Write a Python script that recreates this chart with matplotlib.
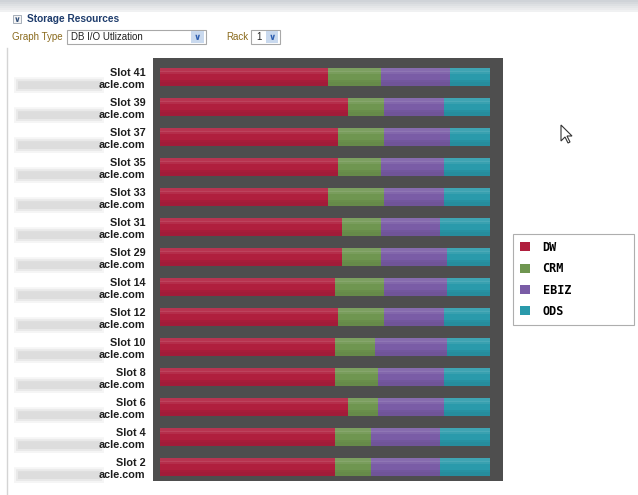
import numpy as np
import matplotlib.pyplot as plt
from matplotlib.patches import Rectangle, Polygon, FancyBboxPatch, Patch
import matplotlib.transforms as mtransforms

# ----------------------------------
# data (share of I/O per slot, %)
# ----------------------------------
slots = ["Slot 41", "Slot 39", "Slot 37", "Slot 35", "Slot 33", "Slot 31", "Slot 29",
         "Slot 14", "Slot 12", "Slot 10", "Slot 8", "Slot 6", "Slot 4", "Slot 2"]
host_tail = "acle.com"

series = ["DW", "CRM", "EBIZ", "ODS"]
dw   = [51, 57, 54, 54, 51, 55, 55, 53, 54, 53, 53, 57, 53, 53]
crm  = [16, 11, 14, 13, 17, 12, 12, 15, 14, 12, 13,  9, 11, 11]
ebiz = [21, 18, 20, 19, 18, 18, 20, 19, 18, 22, 20, 20, 21, 21]
ods  = [12, 14, 12, 14, 14, 15, 13, 13, 14, 13, 14, 14, 15, 15]

colors = ["#b01f3e", "#6f9650", "#7a5ca6", "#2a9aab"]

W, H = 638, 495
fig = plt.figure(figsize=(W / 100, H / 100), dpi=100)
fig.patch.set_facecolor("white")
ui = "Liberation Sans"

def fx(px):
    return px / W

def fy(py):
    return 1 - py / H

# ----------------------------------
# page chrome
# ----------------------------------
for i, c in enumerate(["#cfd3d8", "#d6d9dd", "#dde0e3", "#e4e6e8", "#eaebed", "#f0f1f2"]):
    fig.add_artist(Rectangle((0, fy(2 * (i + 1))), 1, 2 / H, transform=fig.transFigure,
                             facecolor=c, edgecolor="none"))
fig.add_artist(plt.Line2D([fx(7), fx(7)], [fy(48), 0], transform=fig.transFigure,
                          color="#d4d4d4", lw=1))

# collapse icon + title
fig.add_artist(Rectangle((fx(13), fy(23)), 8 / W, 8 / H, transform=fig.transFigure,
                         facecolor="#f4f4f4", edgecolor="#9aa4b0", lw=0.6))
fig.text(fx(17), fy(19), "\u2228", fontsize=6, color="#33507a", ha="center", va="center",
         fontweight="bold")
fig.text(fx(27), fy(19), "Storage Resources", fontsize=7.3, fontweight="bold",
         family=ui, color="#1e3c6c", va="center")

# graph type dropdown
fig.text(fx(12), fy(37), "Graph Type", fontsize=7, family=ui, color="#8a6a1c", va="center")
fig.add_artist(Rectangle((fx(67), fy(44)), 139 / W, 14 / H, transform=fig.transFigure,
                         facecolor="white", edgecolor="#a8a8a8", lw=0.8))
fig.text(fx(71), fy(37), "DB I/O Utlization", fontsize=7, family=ui, color="#222222",
         va="center")
fig.add_artist(Rectangle((fx(191), fy(43)), 13 / W, 12 / H, transform=fig.transFigure,
                         facecolor="#c9d9ee", edgecolor="none"))
fig.text(fx(197.5), fy(37), "\u2228", fontsize=6.5, color="#2f5fb0", ha="center",
         va="center", fontweight="bold")

# rack dropdown
fig.text(fx(226), fy(37), "Rack", fontsize=7, family=ui, color="#8a6a1c", va="center")
fig.add_artist(Rectangle((fx(251), fy(44)), 29 / W, 14 / H, transform=fig.transFigure,
                         facecolor="white", edgecolor="#a8a8a8", lw=0.8))
fig.text(fx(256), fy(37), "1", fontsize=7, family=ui, color="#222222", va="center")
fig.add_artist(Rectangle((fx(266), fy(43)), 12 / W, 12 / H, transform=fig.transFigure,
                         facecolor="#c9d9ee", edgecolor="none"))
fig.text(fx(272), fy(37), "\u2228", fontsize=6.5, color="#2f5fb0", ha="center",
         va="center", fontweight="bold")

# ----------------------------------
# stacked bars
# ----------------------------------
ax = fig.add_axes([fx(153), fy(481), 350 / W, 423 / H])
ax.set_facecolor("#4e4e4e")
for s in ax.spines.values():
    s.set_visible(False)

y = np.arange(len(slots))
data = [dw, crm, ebiz, ods]
left = np.zeros(len(slots))
bh = 0.6
# (offset, height, colour, alpha) layers for a soft vertical gradient
shade = [(-0.40, 0.20, "white", 0.10), (-0.25, 0.15, "white", 0.07),
         (0.22, 0.14, "black", 0.05), (0.38, 0.24, "black", 0.08)]
for vals, c in zip(data, colors):
    vals = np.array(vals, dtype=float)
    ax.barh(y, vals, left=left, height=bh, color=c, edgecolor="none")
    for off, hh, sc, a in shade:
        ax.barh(y + off * bh, vals, left=left, height=hh * bh, color=sc,
                alpha=a, edgecolor="none")
    left += vals

ax.set_xlim(-7 / 3.3, 100 + 13 / 3.3)
ax.set_ylim(len(slots) - 1 + 14 / 30, -19 / 30)
ax.set_xticks([])
ax.set_yticks(y)
ax.set_yticklabels([f"{s}\n{host_tail}" for s in slots], fontsize=7.8,
                   family=ui, fontweight="bold", color="#1e1e1e",
                   linespacing=1.2)
for t in ax.get_yticklabels():
    t.set_multialignment("right")
ax.tick_params(axis="y", length=0, pad=5.5)

# blurred host names
blend = mtransforms.blended_transform_factory(fig.transFigure, ax.transData)
for yi in y:
    for pad, a in [(4, 0.2), (2, 0.3), (0, 0.45)]:
        fig.add_artist(FancyBboxPatch((fx(18 - pad), yi + 0.14 - pad / 30), (82 + 2 * pad) / W,
                                      0.26 + 2 * pad / 30,
                                      boxstyle="round,pad=0,rounding_size=0.004",
                                      transform=blend, facecolor="#cfcfcf",
                                      edgecolor="none", alpha=a, clip_on=False,
                                      zorder=-1))

# ----------------------------------
# legend
# ----------------------------------
handles = [Patch(facecolor=c, edgecolor="none") for c in colors]
leg = fig.legend(handles, series, loc="upper left",
                 bbox_to_anchor=(fx(513), fy(326), 121 / W, 92 / H), mode="expand",
                 frameon=True, fancybox=False, edgecolor="#9a9a9a",
                 prop={"family": "DejaVu Sans Mono", "weight": "bold", "size": 8.5},
                 handlelength=0.8, handleheight=0.8, handletextpad=1.1,
                 labelspacing=0.7, borderpad=0.6, borderaxespad=0)
leg.get_frame().set_linewidth(0.8)

# mouse pointer
cx, cy = 561, 125
shape = [(0, 0), (0, 16), (4, 12), (7, 18), (9, 17), (6, 11), (11, 11)]
fig.add_artist(Polygon([(fx(cx + dx), fy(cy + dy)) for dx, dy in shape], closed=True,
                       transform=fig.transFigure, facecolor="white",
                       edgecolor="#333333", lw=0.8))

fig.savefig("out.png", dpi=100)
